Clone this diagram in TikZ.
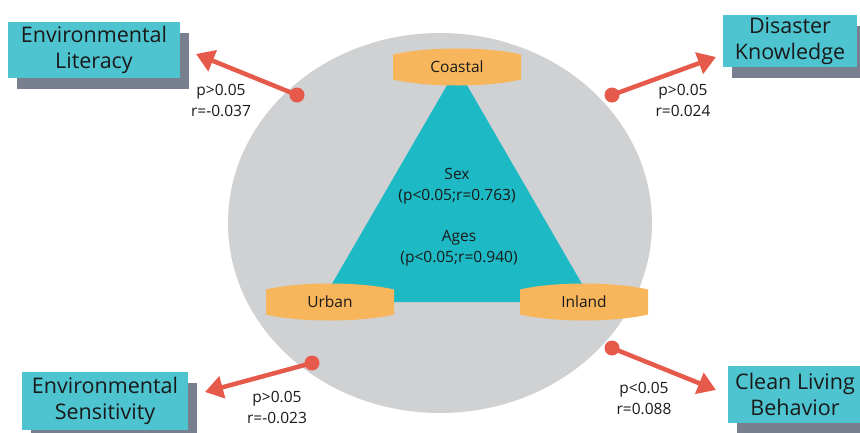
\documentclass[tikz,border=0pt]{standalone}
\usepackage{fontspec}
\setmainfont{Open Sans}
\usetikzlibrary{shapes}
\usetikzlibrary{arrows.meta}
\usetikzlibrary{shadows}
\definecolor{boxcyan}{HTML}{4EC4D0}
\definecolor{shadowgray}{HTML}{78808F}
\definecolor{trigreen}{HTML}{1DB9C4}
\definecolor{ellgray}{HTML}{D0D1D3}
\definecolor{orng}{HTML}{F8B65C}
\definecolor{redarr}{HTML}{E65A4B}
\tikzset{
	var_box/.style = {rectangle, align=center, fill=boxcyan, inner sep=0pt,
		font=\fontsize{21.5}{26}\selectfont, text=black!90,
		drop shadow={shadow xshift=9pt, shadow yshift=-11pt, fill=shadowgray, opacity=1}},% variable
	grp_n/.style = {rectangle, inner sep=0pt, font=\fontsize{15.5}{18}\selectfont, text=black!90},% groupe
	stat_l/.style = {align=center, inner sep=0pt, font=\fontsize{15.5}{21}\selectfont, text=black!90},% p et r
	red_dot/.style = {circle, fill=redarr, inner sep=0pt, minimum size=15pt},
	red_arr/.style = {draw=redarr, line width=4.5pt, -{Triangle[length=18pt,width=22pt]}}
}
\begin{document}
\begin{tikzpicture}[x=1pt,y=-1pt]
	\useasboundingbox (0,0) rectangle (860,432);
	\fill[ellgray] (440,223) ellipse [x radius=212, y radius=190];
	\fill[trigreen] (457,68) -- (321.5,302) -- (592.5,302) -- cycle;
	% groupes
	\foreach \nm/\x/\y/\txt in {coastal/457/67/Coastal, urban/330/302/Urban, inland/584/302/Inland}{
		\fill[orng] (\x-64,\y-12.5) .. controls (\x-30,\y-20.5) and (\x+30,\y-20.5) .. (\x+64,\y-12.5)
			-- (\x+64,\y+12.5) .. controls (\x+30,\y+20.5) and (\x-30,\y+20.5) .. (\x-64,\y+12.5) -- cycle;
		\node[grp_n] (\nm) at (\x,\y) {\txt};
	}
	\node[stat_l] (sex) at (457,186) {Sex\\(p<0.05;r=0.763)};
	\node[stat_l] (ages) at (459,248) {Ages\\(p<0.05;r=0.940)};
	% variables
	\node[var_box, minimum width=172pt, minimum height=56pt] (lit) at (94,50) {Environmental\\Literacy};
	\node[var_box, minimum width=134pt, minimum height=52pt] (know) at (790,41) {Disaster\\Knowledge};
	\node[var_box, minimum width=166pt, minimum height=58pt] (sens) at (105,401) {Environmental\\Sensitivity};
	\node[var_box, minimum width=134pt, minimum height=57pt] (clean) at (795,394) {Clean Living\\Behavior};
	% fleches
	\node[red_dot] (d_lit) at (297,95) {};
	\node[red_dot] (d_know) at (612,95) {};
	\node[red_dot] (d_sens) at (312,363) {};
	\node[red_dot] (d_clean) at (612,348) {};
	\coordinate (t_lit) at (196,54);
	\coordinate (t_know) at (716,57);
	\coordinate (t_sens) at (205,392);
	\coordinate (t_clean) at (716,390);
	\foreach \v in {lit,know,sens,clean}
		\draw[red_arr] (d_\v.center) -- (t_\v);
	\node[stat_l] (s_lit) at (221,100) {p>0.05\\r=-0.037};
	\node[stat_l] (s_know) at (683,100) {p>0.05\\r=0.024};
	\node[stat_l] (s_sens) at (277,407) {p>0.05\\r=-0.023};
	\node[stat_l] (s_clean) at (644,398) {p<0.05\\r=0.088};
\end{tikzpicture}
\end{document}
